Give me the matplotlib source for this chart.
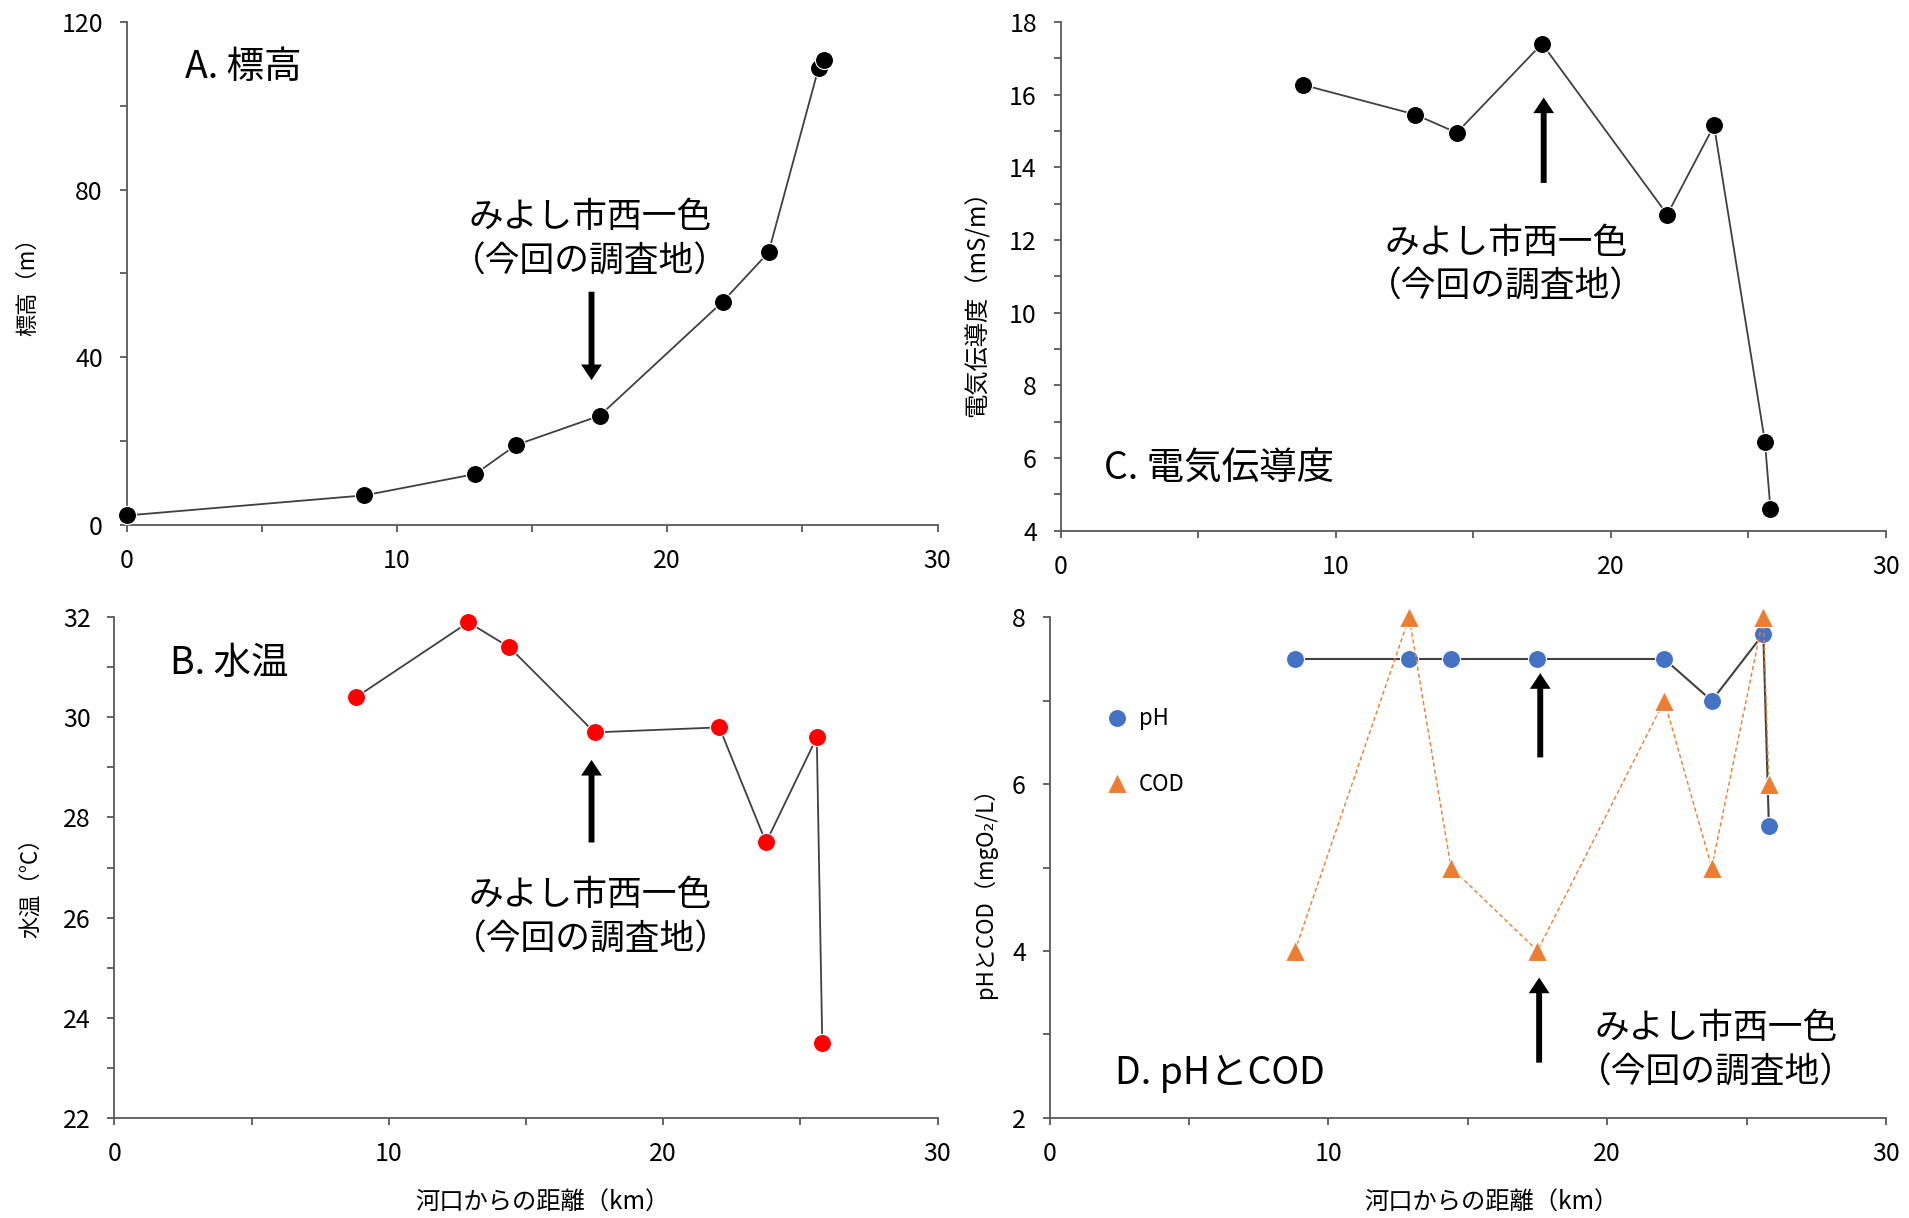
import numpy as np
import matplotlib
matplotlib.use('Agg')
import matplotlib.pyplot as plt
from matplotlib.lines import Line2D
from matplotlib.ticker import MultipleLocator

plt.rcParams['font.family'] = ['Noto Sans CJK JP', 'DejaVu Sans']

# distance from the river mouth (km)
dist_elev = [0, 8.8, 12.9, 14.4, 17.5, 22.05, 23.75, 25.6, 25.8]
elev = [2.2, 7.0, 12.1, 19.0, 26.0, 53.2, 65.0, 109.0, 110.9]

dist = [8.8, 12.9, 14.4, 17.5, 22.05, 23.75, 25.6, 25.8]
temp = [30.4, 31.9, 31.4, 29.7, 29.8, 27.5, 29.6, 23.5]
ec = [16.27, 15.45, 14.95, 17.4, 12.7, 15.15, 6.45, 4.6]
ph = [7.5, 7.5, 7.5, 7.5, 7.5, 7.0, 7.8, 5.5]
cod = [4, 8, 5, 4, 7, 5, 8, 6]

site_label = 'みよし市西一色\n（今回の調査地）'
xlab = '河口からの距離（km）'

W, H = 1909, 1218
AXIS_COL = '#595959'
LINE_COL = '#404040'


def px_rect(left, top, right, bottom):
    # pixel box -> figure fraction
    return [left / W, 1 - bottom / H, (right - left) / W, (bottom - top) / H]


def style(ax, ylim, ymaj, ymin):
    ax.set_xlim(0, 30)
    ax.set_ylim(*ylim)
    ax.xaxis.set_major_locator(MultipleLocator(10))
    ax.xaxis.set_minor_locator(MultipleLocator(5))
    ax.yaxis.set_major_locator(MultipleLocator(ymaj))
    ax.yaxis.set_minor_locator(MultipleLocator(ymin))
    for s in ['top', 'right']:
        ax.spines[s].set_visible(False)
    for s in ['left', 'bottom']:
        ax.spines[s].set_color(AXIS_COL)
        ax.spines[s].set_linewidth(1.3)
    ax.tick_params(which='both', direction='out', length=5, width=1.3,
                   color=AXIS_COL, labelsize=18, pad=12)


def site_arrow(ax, tail, tip):
    ax.annotate('', xy=tip, xytext=tail,
                arrowprops=dict(arrowstyle='simple,head_length=0.45,head_width=0.6,tail_width=0.17',
                                mutation_scale=25, fc='black', ec='none', lw=0,
                                shrinkA=0, shrinkB=0))


fig = plt.figure(figsize=(W / 100, H / 100), dpi=100)

axA = fig.add_axes(px_rect(126.6, 21.9, 937.5, 524.7))
axC = fig.add_axes(px_rect(1060.5, 21.9, 1886, 530.8))
axB = fig.add_axes(px_rect(114.4, 617.3, 937.5, 1117.7))
axD = fig.add_axes(px_rect(1049.5, 617.3, 1886, 1117.7))

# A. elevation
style(axA, (0, 120), 40, 20)
axA.plot(dist_elev, elev, color=LINE_COL, lw=1.3, marker='o', ms=13,
         mfc='black', mec='white', mew=0.8, clip_on=False, zorder=3)
axA.text(0.072, 0.91, 'A. 標高', transform=axA.transAxes, fontsize=27, ha='left', va='center')
axA.text(17.15, 68, site_label, ha='center', va='center', fontsize=25, linespacing=1.35)
site_arrow(axA, (17.2, 55.6), (17.2, 34.5))

# C. conductivity
style(axC, (4, 18), 2, 1)
axC.plot(dist, ec, color=LINE_COL, lw=1.3, marker='o', ms=13,
         mfc='black', mec='white', mew=0.8, clip_on=False, zorder=3)
axC.text(0.053, 0.122, 'C. 電気伝導度', transform=axC.transAxes, fontsize=27, ha='left', va='center')
axC.text(16.2, 11.3, site_label, ha='center', va='center', fontsize=25, linespacing=1.35)
site_arrow(axC, (17.56, 13.57), (17.56, 15.92))

# B. water temperature
style(axB, (22, 32), 2, 1)
axB.plot(dist, temp, color=LINE_COL, lw=1.3, marker='o', ms=13,
         mfc='#FF0000', mec='white', mew=0.8, clip_on=False, zorder=3)
axB.text(0.068, 0.908, 'B. 水温', transform=axB.transAxes, fontsize=27, ha='left', va='center')
axB.text(17.35, 26.0, site_label, ha='center', va='center', fontsize=25, linespacing=1.35)
site_arrow(axB, (17.39, 27.5), (17.39, 29.15))

# D. pH and COD
style(axD, (2, 8), 2, 1)
axD.plot(dist, ph, color=LINE_COL, lw=1.5, marker='o', ms=13,
         mfc='#4472C4', mec='white', mew=0.8, clip_on=False, zorder=3)
axD.plot(dist, cod, color='#ED7D31', lw=1.0, ls=(0, (3, 2)), marker='^', ms=14,
         mfc='#ED7D31', mec='white', mew=0.8, clip_on=False, zorder=4)
axD.text(0.0785, 0.0877, 'D. pHとCOD', transform=axD.transAxes, fontsize=27, ha='left', va='center')
axD.text(23.9, 2.80, site_label, ha='center', va='center', fontsize=25, linespacing=1.35)
site_arrow(axD, (17.6, 6.32), (17.6, 7.33))
site_arrow(axD, (17.56, 2.66), (17.56, 3.68))
handles = [Line2D([], [], ls='none', marker='o', ms=13, mfc='#4472C4', mec='white', mew=0.8),
           Line2D([], [], ls='none', marker='^', ms=14, mfc='#ED7D31', mec='white', mew=0.8)]
axD.legend(handles, ['pH', 'COD'], loc='center left', bbox_to_anchor=(0.068, 0.732),
           frameon=False, fontsize=16, handlelength=1.0, handletextpad=0.45,
           labelspacing=1.9, borderaxespad=0, borderpad=0)

# axis labels
fig.text(28 / W, 1 - 281 / H, '標高（m）', rotation=90, ha='center', va='center', fontsize=16)
fig.text(978 / W, 1 - 298 / H, '電気伝導度（mS/m）', rotation=90, ha='center', va='center', fontsize=17.5)
fig.text(31 / W, 1 - 882 / H, '水温（°C）', rotation=90, ha='center', va='center', fontsize=16)
fig.text(985 / W, 1 - 887 / H, 'pHとCOD（mgO₂/L）', rotation=90, ha='center', va='center', fontsize=16)
fig.text(542 / W, 1 - 1203 / H, xlab, ha='center', va='center', fontsize=17.5)
fig.text(1491 / W, 1 - 1203 / H, xlab, ha='center', va='center', fontsize=17.5)

fig.savefig('out.png', dpi=100, facecolor='white')
